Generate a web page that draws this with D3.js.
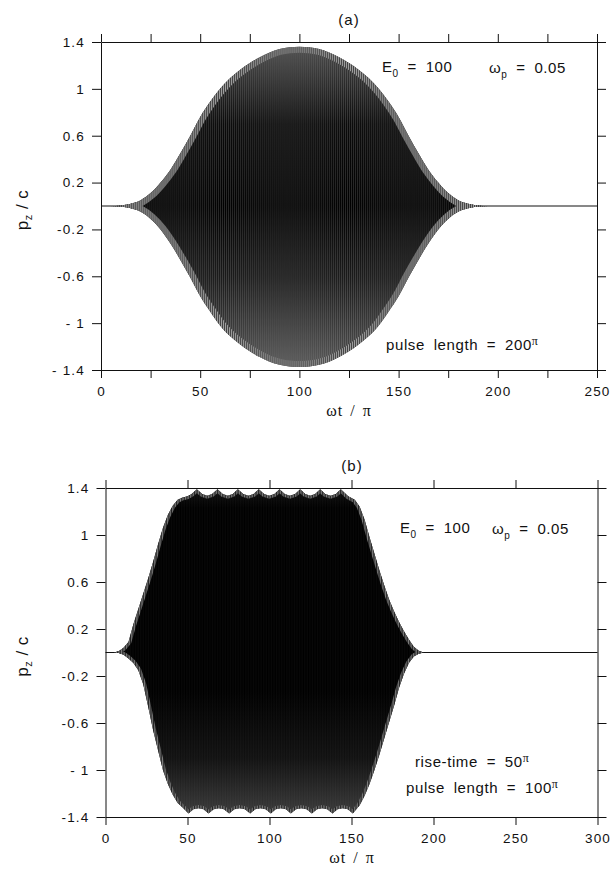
<!DOCTYPE html>
<html>
<head>
<meta charset="utf-8">
<script src="https://cdn.jsdelivr.net/npm/d3@7/dist/d3.min.js"></script>
<style>
  body { margin: 0; background: #fff; }
  svg text { font-family: "Liberation Sans", Arial, Helvetica, sans-serif; fill: #111; }
</style>
</head>
<body>
<svg id="chart" width="613" height="871"></svg>
<script>
// envelope of the p_z/c trace (x in units of wt/pi)
const topT = [0, 5, 10, 15, 20, 25, 30, 35, 40, 45, 50, 55, 60, 65, 70, 75, 80, 85, 90, 95, 100,
  105, 110, 115, 120, 125, 130, 135, 140, 145, 150, 155, 160, 165, 170, 175, 180, 185, 190, 195, 200];
const topUpper = [0, 0, 0.005, 0.02, 0.05, 0.11, 0.2, 0.31, 0.45, 0.6, 0.76, 0.89, 1.0, 1.09, 1.16, 1.22, 1.27, 1.31, 1.34, 1.355, 1.36,
  1.355, 1.34, 1.31, 1.27, 1.22, 1.16, 1.09, 1.0, 0.89, 0.76, 0.6, 0.45, 0.31, 0.2, 0.11, 0.05, 0.02, 0.005, 0, 0];
const topLower = [0, 0, -0.005, -0.02, -0.05, -0.11, -0.2, -0.32, -0.46, -0.61, -0.77, -0.9, -1.02, -1.11, -1.18, -1.24, -1.29, -1.33, -1.355, -1.37, -1.375,
  -1.37, -1.355, -1.33, -1.29, -1.24, -1.18, -1.11, -1.02, -0.9, -0.77, -0.61, -0.46, -0.32, -0.2, -0.11, -0.05, -0.02, -0.005, 0, 0];

const botUpperT = [0, 5, 8, 11, 14, 17, 20, 23, 26, 29, 32, 35, 38, 41, 44, 47, 50, 52.5,
  55.7, 59, 62, 65, 68.3, 71.5, 74.6, 77.6, 80.7, 84, 87.1, 90.3, 93.5, 96.7, 99.8, 103, 106.1, 109.3, 112.4, 115.6, 118.7,
  121.8, 124.8, 127.8, 130.9, 134, 137.2, 140.4, 143.5, 148, 152, 155, 158, 161, 164, 167, 170, 173, 176, 179, 182, 185, 188, 191, 194];
const botUpper = [0, 0, 0.01, 0.04, 0.09, 0.24, 0.37, 0.5, 0.63, 0.77, 0.92, 1.06, 1.17, 1.25, 1.3, 1.32, 1.33, 1.35,
  1.39, 1.35, 1.335, 1.35, 1.39, 1.35, 1.335, 1.35, 1.39, 1.35, 1.335, 1.35, 1.39, 1.35, 1.335, 1.35, 1.39, 1.35, 1.335, 1.35, 1.39,
  1.35, 1.335, 1.35, 1.39, 1.35, 1.335, 1.35, 1.39, 1.33, 1.3, 1.24, 1.13, 0.98, 0.84, 0.7, 0.57, 0.45, 0.35, 0.26, 0.18, 0.11, 0.05, 0.015, 0];
const botLowerT = [0, 5, 8, 11, 14, 17, 20, 23, 26, 29, 32, 35, 38, 41, 44, 47, 50.6, 53.6, 56.7, 59.8, 62.8, 66, 69.1, 72.2, 75.4, 78.6, 81.8, 85, 88.2,
  91.3, 94.5, 97.6, 100.8, 103.8, 106.9, 110, 113, 116.2, 119.4, 122.6, 125.8, 129, 132.1, 135.2, 138.4, 141.5, 144.6, 147.7, 150.8,
  155, 158, 161, 164, 167, 170, 173, 176, 179, 182, 185, 188, 191, 194];
const botLower = [0, 0, -0.005, -0.02, -0.05, -0.09, -0.15, -0.27, -0.46, -0.66, -0.83, -1, -1.12, -1.21, -1.28, -1.32, -1.37, -1.335, -1.325, -1.335, -1.37, -1.335, -1.325, -1.335, -1.37, -1.335, -1.325, -1.335, -1.37,
  -1.335, -1.325, -1.335, -1.37, -1.335, -1.325, -1.335, -1.37, -1.335, -1.325, -1.335, -1.37, -1.335, -1.325, -1.335, -1.37, -1.335, -1.325, -1.335, -1.37,
  -1.3, -1.22, -1.12, -1, -0.87, -0.73, -0.59, -0.45, -0.3, -0.18, -0.09, -0.035, -0.01, 0];

// ticks
const yTicks = [1.4, 1, 0.6, 0.2, -0.2, -0.6, -1, -1.4];
const yTickLabelsTop = ['1.4', '1', '0.6', '0.2', '-0.2', '-0.6', '- 1', '- 1.4'];
const yTickLabelsBot = ['1.4', '1', '0.6', '0.2', '-0.2', '-0.6', '- 1', '-1.4'];
const xTicksTop = [0, 25, 50, 75, 100, 125, 150, 175, 200, 225, 250];
const xLabelsTop = [0, 50, 100, 150, 200, 250];
const xTicksBot = [0, 50, 100, 150, 200, 250, 300];
const xLabelsBot = [0, 50, 100, 150, 200, 250, 300];

const svg = d3.select('#chart');
const defs = svg.append('defs');

function stripePattern(id, x0, unit, bg, line, lineWidth, lineOpacity) {
  let pat = defs.append('pattern').attr('id', id)
    .attr('patternUnits', 'userSpaceOnUse')
    .attr('x', x0).attr('y', 0).attr('width', unit).attr('height', 20);
  if (bg) pat.append('rect').attr('width', unit).attr('height', 20).attr('fill', bg);
  pat.append('rect').attr('x', 0).attr('y', 0).attr('width', lineWidth).attr('height', 20)
    .attr('fill', line).attr('fill-opacity', lineOpacity);
}

function drawPanel(p) {
  let x = d3.scaleLinear().domain([0, p.xMax]).range([p.left, p.right]);
  let y = d3.scaleLinear().domain([-1.4, 1.4]).range([p.bottom, p.top]);
  let g = svg.append('g');

  // trace baseline at p_z = 0
  g.append('path')
    .attr('d', d3.line()([[x(0), y(0)], [x(p.xMax), y(0)]]))
    .attr('stroke', '#111').attr('stroke-width', 1).attr('fill', 'none');

  let up = p.upperT.map((t, i) => [t, p.upper[i]]);
  let lo = p.lowerT.map((t, i) => [t, p.lower[i]]);
  let area = d3.area().x(d => x(d[0])).y0(y(0)).y1(d => y(d[1])).curve(p.curve);
  let lineEnv = d3.line().x(d => x(d[0])).y(d => y(d[1])).curve(p.curve);

  let clip = defs.append('clipPath').attr('id', 'clip-' + p.id);
  clip.append('path').attr('d', area(up));
  clip.append('path').attr('d', area(lo));

  let grad = defs.append('linearGradient').attr('id', 'grad-' + p.id)
    .attr('gradientUnits', 'userSpaceOnUse')
    .attr('x1', 0).attr('x2', 0).attr('y1', y(1.4)).attr('y2', y(-1.4));
  p.gradStops.forEach(s => grad.append('stop').attr('offset', s[0]).attr('stop-color', s[1]));

  let unit = x(1) - x(0);
  stripePattern('pat-' + p.id, x(0), unit, null, '#fff', p.stripeWidth, p.stripeOpacity);
  stripePattern('rim-' + p.id, x(0), unit, p.rimColor, '#111', unit * 0.55, 0.9);

  let sig = g.append('g').attr('clip-path', 'url(#clip-' + p.id + ')');
  sig.append('rect')
    .attr('x', x(0)).attr('y', y(1.4)).attr('width', x(p.xMax) - x(0)).attr('height', y(-1.4) - y(1.4))
    .attr('fill', 'url(#grad-' + p.id + ')');
  [up, lo].forEach(function (pts) {
    sig.append('path').attr('d', lineEnv(pts))
      .attr('fill', 'none').attr('stroke', 'url(#rim-' + p.id + ')').attr('stroke-width', p.rimWidth);
  });
  sig.append('rect')
    .attr('x', x(0)).attr('y', y(1.4)).attr('width', x(p.xMax) - x(0)).attr('height', y(-1.4) - y(1.4))
    .attr('fill', 'url(#pat-' + p.id + ')');

  // frame with outward ticks on all four sides
  let fmtY = (d, i) => p.yLabels[i];
  let fmtX = d => (p.xLabels.indexOf(d) >= 0 ? String(d) : '');
  let axes = [
    g.append('g').attr('transform', 'translate(' + x(0) + ',0)')
      .call(d3.axisLeft(y).tickValues(yTicks).tickFormat(fmtY).tickSize(9).tickSizeOuter(0).tickPadding(7)),
    g.append('g').attr('transform', 'translate(' + x(p.xMax) + ',0)')
      .call(d3.axisRight(y).tickValues(yTicks).tickFormat('').tickSize(9).tickSizeOuter(0)),
    g.append('g').attr('transform', 'translate(0,' + y(1.4) + ')')
      .call(d3.axisTop(x).tickValues(p.xTicks).tickFormat('').tickSize(8).tickSizeOuter(0)),
    g.append('g').attr('transform', 'translate(0,' + y(-1.4) + ')')
      .call(d3.axisBottom(x).tickValues(p.xTicks).tickFormat(fmtX).tickSize(8).tickSizeOuter(0).tickPadding(8))
  ];
  axes.forEach(function (a) {
    a.attr('font-size', null).attr('font-family', null);
    a.selectAll('path, line').attr('stroke', '#111').attr('stroke-width', 1);
    a.selectAll('text').attr('font-size', 13.5).attr('letter-spacing', 1.2).attr('fill', '#111');
  });

  // titles
  svg.append('text').attr('x', p.titleX).attr('y', p.top - 17)
    .attr('text-anchor', 'middle').attr('font-size', 15).attr('letter-spacing', 1).text(p.label);

  let yl = svg.append('text')
    .attr('transform', 'translate(28,' + (y(0) + 4) + ') rotate(-90)')
    .attr('text-anchor', 'middle').attr('font-size', 17).attr('letter-spacing', 0.5);
  yl.append('tspan').text('p');
  yl.append('tspan').attr('font-size', 11).attr('dy', 4).text('z');
  yl.append('tspan').attr('dy', -4).text(' / c');

  svg.append('text').attr('x', p.titleX).attr('y', p.bottom + 46)
    .attr('text-anchor', 'middle').attr('font-size', 16)
    .style('font-family', '"Liberation Serif", "Times New Roman", serif')
    .attr('letter-spacing', 1).attr('word-spacing', 2).text('\u03c9t / \u03c0');

  p.notes.forEach(function (n) {
    let t = svg.append('text').attr('x', n.x).attr('y', n.y)
      .attr('font-size', 15).attr('letter-spacing', 0.6).attr('word-spacing', 4);
    n.parts.forEach(function (part) {
      let s = t.append('tspan').text(part.s);
      if (part.sub) s.attr('font-size', 10).attr('dy', 5);
      if (part.sup) s.attr('font-size', 12).attr('dy', -5).style('font-family', '"Liberation Serif", serif');
      if (part.back) s.attr('dy', part.back);
    });
  });
}

drawPanel({
  id: 'a', label: '(a)', titleX: 349,
  left: 101, right: 597, top: 42, bottom: 370, xMax: 250,
  xTicks: xTicksTop, xLabels: xLabelsTop, yLabels: yTickLabelsTop,
  upperT: topT, upper: topUpper, lowerT: topT, lower: topLower, curve: d3.curveMonotoneX,
  gradStops: [['0', '#4a4a4a'], ['0.25', '#0a0a0a'], ['0.5', '#000'], ['0.72', '#1a1a1a'], ['1', '#555']],
  rimColor: '#b0b0b0', rimWidth: 12, stripeWidth: 0.6, stripeOpacity: 0.25,
  notes: [
    { x: 382, y: 72, parts: [{ s: 'E' }, { s: '0', sub: true }, { s: ' = 100', back: -5 }] },
    { x: 489, y: 73, parts: [{ s: '\u03c9' }, { s: 'p', sub: true }, { s: ' = 0.05', back: -5 }] },
    { x: 386, y: 350, parts: [{ s: 'pulse length = 200' }, { s: '\u03c0', sup: true }] }
  ]
});

drawPanel({
  id: 'b', label: '(b)', titleX: 352,
  left: 105.5, right: 597.5, top: 488, bottom: 817, xMax: 300,
  xTicks: xTicksBot, xLabels: xLabelsBot, yLabels: yTickLabelsBot,
  upperT: botUpperT, upper: botUpper, lowerT: botLowerT, lower: botLower, curve: d3.curveLinear,
  gradStops: [['0', '#111'], ['0.06', '#000'], ['0.62', '#000'], ['0.82', '#111'], ['1', '#3c3c3c']],
  rimColor: '#888', rimWidth: 6, stripeWidth: 0.5, stripeOpacity: 0.05,
  notes: [
    { x: 400, y: 533, parts: [{ s: 'E' }, { s: '0', sub: true }, { s: ' = 100', back: -5 }] },
    { x: 492, y: 534, parts: [{ s: '\u03c9' }, { s: 'p', sub: true }, { s: ' = 0.05', back: -5 }] },
    { x: 415, y: 767, parts: [{ s: 'rise-time = 50' }, { s: '\u03c0', sup: true }] },
    { x: 406, y: 793, parts: [{ s: 'pulse length = 100' }, { s: '\u03c0', sup: true }] }
  ]
});
</script>
</body>
</html>
